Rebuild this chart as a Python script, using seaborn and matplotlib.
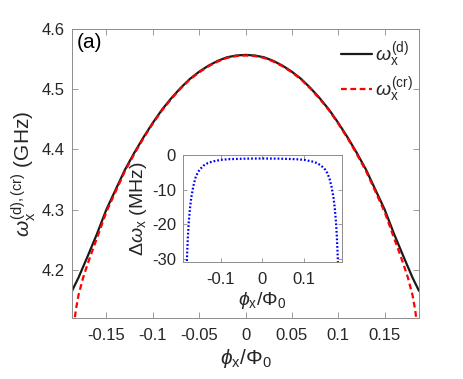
import numpy as np
import pandas as pd
import seaborn as sns
import matplotlib
matplotlib.use('Agg')
import matplotlib.pyplot as plt

# main panel: dressed (d) and cross-resonance (cr) frequencies, GHz
phi_d = [-0.187, -0.18, -0.17, -0.16, -0.15, -0.14, -0.13, -0.12, -0.11, -0.10, -0.09, -0.08,
         -0.07, -0.06, -0.05, -0.04, -0.03, -0.02, -0.01, 0.0, 0.01, 0.02, 0.03, 0.04, 0.05,
         0.06, 0.07, 0.08, 0.09, 0.10, 0.11, 0.12, 0.13, 0.14, 0.15, 0.16, 0.17, 0.18, 0.187]
omega_d = [4.165, 4.187, 4.223, 4.260, 4.300, 4.333, 4.366, 4.394, 4.420, 4.444, 4.466, 4.485,
           4.502, 4.517, 4.529, 4.539, 4.547, 4.553, 4.556, 4.557, 4.556, 4.553, 4.547, 4.539, 4.529,
           4.517, 4.502, 4.485, 4.466, 4.444, 4.420, 4.394, 4.366, 4.333, 4.300, 4.260, 4.223, 4.187, 4.165]

phi_cr = [-0.187, -0.185, -0.183, -0.18, -0.175, -0.17, -0.165, -0.16, -0.15, -0.14, -0.13, -0.12,
          -0.11, -0.10, -0.09, -0.08, -0.07, -0.06, -0.05, -0.04, -0.03, -0.02, -0.01, 0.0,
          0.01, 0.02, 0.03, 0.04, 0.05, 0.06, 0.07, 0.08, 0.09, 0.10, 0.11, 0.12, 0.13, 0.14,
          0.15, 0.16, 0.165, 0.17, 0.175, 0.18, 0.183, 0.185, 0.187]
omega_cr = [4.075, 4.106, 4.132, 4.158, 4.187, 4.2105, 4.232, 4.253, 4.296, 4.330, 4.3637, 4.392,
            4.4186, 4.4426, 4.4648, 4.4838, 4.5009, 4.516, 4.528, 4.538, 4.546, 4.552, 4.555, 4.556,
            4.555, 4.552, 4.546, 4.538, 4.528, 4.516, 4.5009, 4.4838, 4.4648, 4.4426, 4.4186, 4.392,
            4.3637, 4.330, 4.296, 4.253, 4.232, 4.2105, 4.187, 4.158, 4.132, 4.106, 4.075]

# inset: difference, MHz
phi_in = [-0.182, -0.18, -0.178, -0.176, -0.173, -0.17, -0.165, -0.16, -0.155, -0.15, -0.14, -0.13,
          -0.12, -0.10, -0.08, -0.04, 0.0, 0.04, 0.08, 0.10, 0.12, 0.13, 0.14, 0.15, 0.155, 0.16,
          0.165, 0.17, 0.173, 0.176, 0.178, 0.18, 0.182]
delta_in = [-36, -29.0, -23.5, -19.5, -15.3, -12.3, -9.0, -6.6, -5.2, -4.2, -3.0, -2.3,
            -1.9, -1.4, -1.2, -1.05, -1.0, -1.05, -1.2, -1.4, -1.9, -2.3, -3.0, -4.2, -5.2, -6.6,
            -9.0, -12.3, -15.3, -19.5, -23.5, -29.0, -36]

main_df = pd.concat([
    pd.DataFrame({'phi': phi_d, 'omega': omega_d, 'kind': 'd'}),
    pd.DataFrame({'phi': phi_cr, 'omega': omega_cr, 'kind': 'cr'}),
])
inset_df = pd.DataFrame({'phi': phi_in, 'delta': delta_in})

sns.set_theme(style='ticks')
plt.rcParams['font.family'] = ['Liberation Sans', 'DejaVu Sans']
plt.rcParams['mathtext.fontset'] = 'custom'
plt.rcParams['mathtext.rm'] = 'Liberation Sans'
plt.rcParams['mathtext.it'] = 'Liberation Sans:italic'
plt.rcParams['mathtext.bf'] = 'Liberation Sans:bold'

edge = '#8c8c8c'
txt = '#262626'

def style_axes(ax, size):
    for s in ax.spines.values():
        s.set_color(edge)
        s.set_linewidth(0.7)
    ax.tick_params(direction='in', top=True, right=True, length=4, width=0.6,
                   color=edge, labelcolor=txt, labelsize=size, pad=5)
    ax.tick_params(axis='x', pad=7)

fig = plt.figure(figsize=(4.63, 3.79), dpi=100)
ax = fig.add_axes([0.1555, 0.161, 0.7495, 0.7625])

sns.lineplot(data=main_df[main_df['kind'] == 'd'], x='phi', y='omega', ax=ax,
             color='#1a1a1a', lw=1.6, sort=False, label=r'$\omega_{\rm x}^{\rm (d)}$')
sns.lineplot(data=main_df[main_df['kind'] == 'cr'], x='phi', y='omega', ax=ax,
             color='#ff0000', lw=1.6, sort=False, label=r'$\omega_{\rm x}^{\rm (cr)}$')
ax.lines[1].set_dashes((2.6, 1.6))

ax.set_xlim(-0.187, 0.187)
ax.set_ylim(4.12, 4.6)
xt = [-0.15, -0.1, -0.05, 0, 0.05, 0.1, 0.15]
ax.set_xticks(xt)
ax.set_xticklabels(['-0.15', '-0.1', '-0.05', '0', '0.05', '0.1', '0.15'])
ax.set_yticks([4.2, 4.3, 4.4, 4.5, 4.6])
ax.set_yticklabels(['4.2', '4.3', '4.4', '4.5', '4.6'])
style_axes(ax, 12)
ax.set_xlabel(r'$\phi_{\rm x}/\Phi_0$', fontsize=15, color=txt, labelpad=3)
ax.set_ylabel(r'$\omega_{\rm x}^{\rm (d),(cr)}$ (GHz)', fontsize=15, color=txt, labelpad=3)
ax.text(0.015, 0.985, '(a)', transform=ax.transAxes, fontsize=15, color='black',
        ha='left', va='top')

leg = ax.legend(loc='upper right', bbox_to_anchor=(1.015, 1.0), frameon=False, fontsize=14,
                handlelength=1.6, handletextpad=0.15, labelspacing=0.3, borderaxespad=0.2)

# inset
ax_in = fig.add_axes([0.395, 0.3074, 0.3434, 0.2836])
sns.lineplot(data=inset_df, x='phi', y='delta', ax=ax_in, color='#0000ff', lw=1.6, sort=False)
ax_in.lines[0].set_dashes((0.8, 0.9))
ax_in.set_xlim(-0.19, 0.19)
ax_in.set_ylim(-31, 0)
ax_in.set_xticks([-0.1, 0, 0.1])
ax_in.set_xticklabels(['-0.1', '0', '0.1'])
ax_in.set_yticks([-30, -20, -10, 0])
ax_in.set_yticklabels(['-30', '-20', '-10', '0'])
style_axes(ax_in, 12)
ax_in.tick_params(length=3)
ax_in.set_xlabel(r'$\phi_{\rm x}/\Phi_0$', fontsize=14, color=txt, labelpad=2)
ax_in.set_ylabel(r'$\Delta\omega_{\rm x}$ (MHz)', fontsize=14, color=txt, labelpad=2)

fig.savefig('out.png', dpi=100)
